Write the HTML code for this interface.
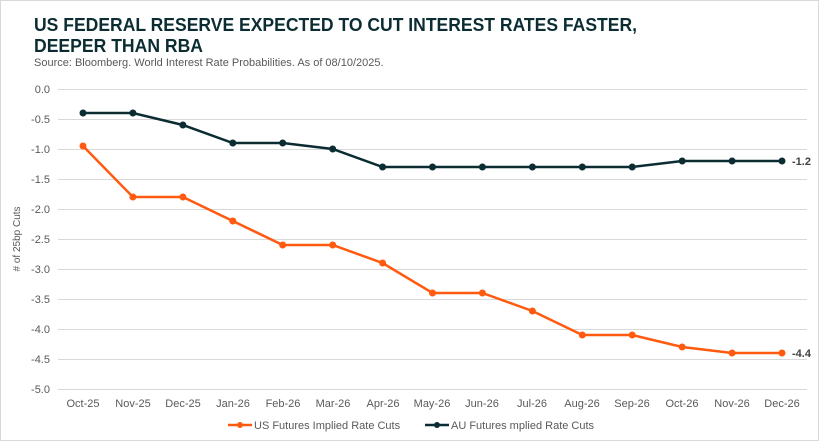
<!DOCTYPE html>
<html><head><meta charset="utf-8"><style>
body{margin:0;background:#fff;}
svg{display:block;font-family:"Liberation Sans",Arial,sans-serif;}
</style></head><body>
<svg width="820" height="442" viewBox="0 0 820 442">
<rect x="0.5" y="0.5" width="818" height="440" fill="#fff" stroke="#d9d9d9"/>
<text x="34" y="31" font-size="18" font-weight="bold" fill="#0b2d32" textLength="603" lengthAdjust="spacingAndGlyphs">US FEDERAL RESERVE EXPECTED TO CUT INTEREST RATES FASTER,</text>
<text x="34" y="52" font-size="18" font-weight="bold" fill="#0b2d32" textLength="169" lengthAdjust="spacingAndGlyphs">DEEPER THAN RBA</text>
<text x="34" y="66" font-size="11" fill="#595959">Source: Bloomberg. World Interest Rate Probabilities. As of 08/10/2025.</text>
<g stroke="#d9d9d9" stroke-width="1">
<line x1="58" y1="89.5" x2="807" y2="89.5"/><line x1="58" y1="119.5" x2="807" y2="119.5"/>
<line x1="58" y1="149.5" x2="807" y2="149.5"/><line x1="58" y1="179.5" x2="807" y2="179.5"/>
<line x1="58" y1="209.5" x2="807" y2="209.5"/><line x1="58" y1="239.5" x2="807" y2="239.5"/>
<line x1="58" y1="269.5" x2="807" y2="269.5"/><line x1="58" y1="299.5" x2="807" y2="299.5"/>
<line x1="58" y1="329.5" x2="807" y2="329.5"/><line x1="58" y1="359.5" x2="807" y2="359.5"/>
<line x1="58" y1="389.5" x2="807" y2="389.5"/>
</g>
<g font-size="11" fill="#595959" text-anchor="end">
<text x="50" y="93">0.0</text><text x="50" y="123">-0.5</text><text x="50" y="153">-1.0</text>
<text x="50" y="183">-1.5</text><text x="50" y="213">-2.0</text><text x="50" y="243">-2.5</text>
<text x="50" y="273">-3.0</text><text x="50" y="303">-3.5</text><text x="50" y="333">-4.0</text>
<text x="50" y="363">-4.5</text><text x="50" y="393">-5.0</text>
</g>
<text transform="translate(20,239) rotate(-90)" font-size="10" fill="#595959" text-anchor="middle"># of 25bp Cuts</text>
<g font-size="11" fill="#595959" text-anchor="middle">
<text x="83" y="407">Oct-25</text><text x="133" y="407">Nov-25</text><text x="183" y="407">Dec-25</text>
<text x="233" y="407">Jan-26</text><text x="283" y="407">Feb-26</text><text x="333" y="407">Mar-26</text>
<text x="383" y="407">Apr-26</text><text x="432" y="407">May-26</text><text x="482" y="407">Jun-26</text>
<text x="532" y="407">Jul-26</text><text x="582" y="407">Aug-26</text><text x="632" y="407">Sep-26</text>
<text x="682" y="407">Oct-26</text><text x="732" y="407">Nov-26</text><text x="782" y="407">Dec-26</text>
</g>
<g fill="#0b2d32">
<polyline fill="none" stroke="#0b2d32" stroke-width="2.5" points="83,113 132.9,113 182.9,125 232.8,143 282.7,143 332.7,149 382.6,167 432.5,167 482.4,167 532.4,167 582.3,167 632.2,167 682.2,161 732.1,161 782,161"/>
<circle cx="83" cy="113" r="3.5"/><circle cx="132.9" cy="113" r="3.5"/><circle cx="182.9" cy="125" r="3.5"/><circle cx="232.8" cy="143" r="3.5"/><circle cx="282.7" cy="143" r="3.5"/><circle cx="332.7" cy="149" r="3.5"/><circle cx="382.6" cy="167" r="3.5"/><circle cx="432.5" cy="167" r="3.5"/><circle cx="482.4" cy="167" r="3.5"/><circle cx="532.4" cy="167" r="3.5"/><circle cx="582.3" cy="167" r="3.5"/><circle cx="632.2" cy="167" r="3.5"/><circle cx="682.2" cy="161" r="3.5"/><circle cx="732.1" cy="161" r="3.5"/><circle cx="782" cy="161" r="3.5"/>
</g>
<g fill="#ff5a0f">
<polyline fill="none" stroke="#ff5a0f" stroke-width="2.5" points="83,146 132.9,197 182.9,197 232.8,221 282.7,245 332.7,245 382.6,263 432.5,293 482.4,293 532.4,311 582.3,335 632.2,335 682.2,347 732.1,353 782,353"/>
<circle cx="83" cy="146" r="3.5"/><circle cx="132.9" cy="197" r="3.5"/><circle cx="182.9" cy="197" r="3.5"/><circle cx="232.8" cy="221" r="3.5"/><circle cx="282.7" cy="245" r="3.5"/><circle cx="332.7" cy="245" r="3.5"/><circle cx="382.6" cy="263" r="3.5"/><circle cx="432.5" cy="293" r="3.5"/><circle cx="482.4" cy="293" r="3.5"/><circle cx="532.4" cy="311" r="3.5"/><circle cx="582.3" cy="335" r="3.5"/><circle cx="632.2" cy="335" r="3.5"/><circle cx="682.2" cy="347" r="3.5"/><circle cx="732.1" cy="353" r="3.5"/><circle cx="782" cy="353" r="3.5"/>
</g>
<text x="792" y="165" font-size="11" font-weight="bold" fill="#404040">-1.2</text>
<text x="792" y="357" font-size="11" font-weight="bold" fill="#404040">-4.4</text>
<line x1="228" y1="425" x2="252" y2="425" stroke="#ff5a0f" stroke-width="2.5"/><circle cx="240" cy="425" r="3" fill="#ff5a0f"/>
<text x="254" y="429" font-size="11" fill="#595959">US Futures Implied Rate Cuts</text>
<line x1="425" y1="425" x2="449" y2="425" stroke="#0b2d32" stroke-width="2.5"/><circle cx="437" cy="425" r="3" fill="#0b2d32"/>
<text x="451" y="429" font-size="11" fill="#595959">AU Futures mplied Rate Cuts</text>
</svg>
</body></html>
